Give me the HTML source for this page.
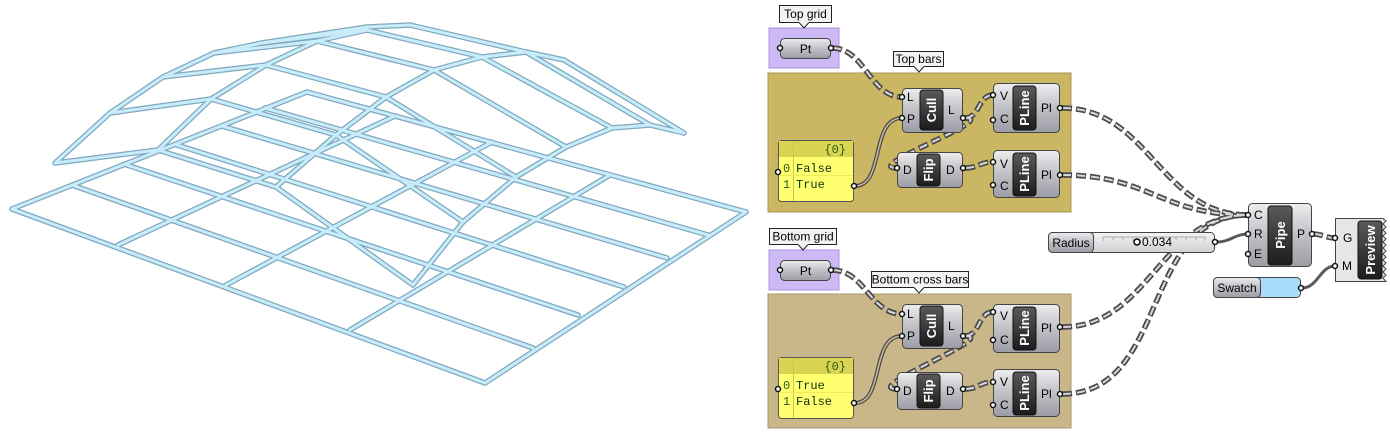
<!DOCTYPE html>
<html><head><meta charset="utf-8"><style>
html,body{margin:0;padding:0;background:#fff;width:1390px;height:435px;overflow:hidden}
svg{display:block}
text{font-family:"Liberation Sans",sans-serif}
text.m{font-family:"Liberation Mono",monospace}
</style></head><body>
<svg width="1390" height="435" viewBox="0 0 1390 435" xmlns="http://www.w3.org/2000/svg">
<defs>
<linearGradient id="cg" x1="0" y1="0" x2="0" y2="1"><stop offset="0" stop-color="#eeeef0"/><stop offset="0.45" stop-color="#c4c4ca"/><stop offset="1" stop-color="#9c9ca6"/></linearGradient>
<linearGradient id="ig" x1="0" y1="0" x2="0" y2="1"><stop offset="0" stop-color="#5a5a5a"/><stop offset="1" stop-color="#1c1c1c"/></linearGradient>
<linearGradient id="sg" x1="0" y1="0" x2="0" y2="1"><stop offset="0" stop-color="#f4f4f4"/><stop offset="1" stop-color="#d0d0d4"/></linearGradient>
</defs>

<g fill="none" stroke-linecap="round" stroke-linejoin="round">
<g stroke="#7fa8be" stroke-width="5.5">
<path d="M12,209 L307,92 M118,245 L395,116 M226,285 L492,142 M350,330 L610,175 M485,383 L746,212"/>
<path d="M12,209 L485,383 M72,185 L533,348 M127,165 L578,315 M177,145 L624,287 M222,126 L667,258 M265,108 L708,235 M307,92 L746,212"/>
<path d="M55,163 L110,113 L163,77 L214,53 L262,43 L367,27 L410,25"/>
<path d="M158,150 L211,99 L266,65 L317,41 L367,30"/>
<path d="M55,163 L158,150 M110,113 L211,99 M163,77 L266,65 M214,53 L317,41 M262,43 L367,30"/>
<path d="M276,187 L336,135 L386,97 L434,70 L482,57 L526,52 L564,60"/>
<path d="M158,150 L276,187 M211,99 L336,135 M266,65 L386,97 M317,41 L434,70 M367,30 L482,57 M410,25 L526,52"/>
<path d="M413,285 L463,222 L516,177 L566,147 L612,128 L650,125 L684,133"/>
<path d="M276,187 L413,285 M336,135 L463,222 M386,97 L516,177 M434,70 L566,147 M482,57 L612,128 M526,52 L650,125 M564,60 L684,133"/>
</g>
<g stroke="#c8ecfa" stroke-width="3">
<path d="M12,209 L307,92 M118,245 L395,116 M226,285 L492,142 M350,330 L610,175 M485,383 L746,212"/>
<path d="M12,209 L485,383 M72,185 L533,348 M127,165 L578,315 M177,145 L624,287 M222,126 L667,258 M265,108 L708,235 M307,92 L746,212"/>
<path d="M55,163 L110,113 L163,77 L214,53 L262,43 L367,27 L410,25"/>
<path d="M158,150 L211,99 L266,65 L317,41 L367,30"/>
<path d="M55,163 L158,150 M110,113 L211,99 M163,77 L266,65 M214,53 L317,41 M262,43 L367,30"/>
<path d="M276,187 L336,135 L386,97 L434,70 L482,57 L526,52 L564,60"/>
<path d="M158,150 L276,187 M211,99 L336,135 M266,65 L386,97 M317,41 L434,70 M367,30 L482,57 M410,25 L526,52"/>
<path d="M413,285 L463,222 L516,177 L566,147 L612,128 L650,125 L684,133"/>
<path d="M276,187 L413,285 M336,135 L463,222 M386,97 L516,177 M434,70 L566,147 M482,57 L612,128 M526,52 L650,125 M564,60 L684,133"/>
</g>
</g>

<rect x="769" y="28" width="70" height="40" fill="#cdb9f6" stroke="#a993dd"/>
<rect x="768" y="73" width="303" height="139" fill="#cbb664" stroke="#a89850"/>
<rect x="769" y="250" width="70" height="40" fill="#cdb9f6" stroke="#a993dd"/>
<rect x="768" y="294" width="303" height="134" fill="#c9b78a" stroke="#a8986e"/>

<g font-size="12" fill="#000">
<rect x="779.5" y="5.5" width="52" height="17" fill="#f2f2f2" stroke="#222"/>
<path d="M799,22.5 L804,28 L809,22.5" fill="#f2f2f2" stroke="#222"/><path d="M799.5,22.5 L808.5,22.5" stroke="#f2f2f2"/>
<text x="805.5" y="18" text-anchor="middle">Top grid</text>
<rect x="893.5" y="51.5" width="50" height="15" fill="#f2f2f2" stroke="#222"/>
<path d="M914,66.5 L919,72 L924,66.5" fill="#f2f2f2" stroke="#222"/><path d="M914.5,66.5 L923.5,66.5" stroke="#f2f2f2"/>
<text x="918.5" y="63" text-anchor="middle">Top bars</text>
<rect x="769.5" y="228.5" width="67" height="16" fill="#f2f2f2" stroke="#222"/>
<path d="M798,244.5 L803,250 L808,244.5" fill="#f2f2f2" stroke="#222"/><path d="M798.5,244.5 L807.5,244.5" stroke="#f2f2f2"/>
<text x="803" y="240.5" text-anchor="middle">Bottom grid</text>
<rect x="871.5" y="271.5" width="97" height="16" fill="#f2f2f2" stroke="#222"/>
<path d="M914,287.5 L919,293 L924,287.5" fill="#f2f2f2" stroke="#222"/><path d="M914.5,287.5 L923.5,287.5" stroke="#f2f2f2"/>
<text x="920" y="283.5" text-anchor="middle">Bottom cross bars</text>
</g>

<g fill="none">
<g stroke="#4a4a4a" stroke-width="5.5" stroke-dasharray="10 4">
<path d="M832,48 C865,48 870,97 902,97"/>
<path d="M832,270 C865,270 870,314 902,314"/>
<path d="M965,118 C980,118 978,95 993,95"/>
<path d="M965,118 C1000,118 860,168 897,168"/>
<path d="M965,168 C978,168 980,162 993,162"/>
<path d="M965,336 C980,336 978,312 993,312"/>
<path d="M965,336 C1000,336 860,389 897,389"/>
<path d="M965,389 C978,389 980,382 993,382"/>
<path d="M1062,108 C1150,108 1160,215 1248,215"/>
<path d="M1062,175 C1150,175 1160,215 1248,215"/>
<path d="M1062,327 C1150,327 1160,215 1248,215"/>
<path d="M1062,394 C1170,394 1140,215 1248,215"/>
<path d="M1313,234 C1322,234 1326,238 1335,238"/>
</g>
<g stroke="#d8d8d8" stroke-width="2" stroke-dasharray="8 6" stroke-dashoffset="-1">
<path d="M832,48 C865,48 870,97 902,97"/>
<path d="M832,270 C865,270 870,314 902,314"/>
<path d="M965,118 C980,118 978,95 993,95"/>
<path d="M965,118 C1000,118 860,168 897,168"/>
<path d="M965,168 C978,168 980,162 993,162"/>
<path d="M965,336 C980,336 978,312 993,312"/>
<path d="M965,336 C1000,336 860,389 897,389"/>
<path d="M965,389 C978,389 980,382 993,382"/>
<path d="M1062,108 C1150,108 1160,215 1248,215"/>
<path d="M1062,175 C1150,175 1160,215 1248,215"/>
<path d="M1062,327 C1150,327 1160,215 1248,215"/>
<path d="M1062,394 C1170,394 1140,215 1248,215"/>
<path d="M1313,234 C1322,234 1326,238 1335,238"/>
</g>
<g stroke="#4a4a4a" stroke-width="4">
<path d="M855,186 C885,186 870,118 902,118"/>
<path d="M855,403 C885,403 870,336 902,336"/>
</g>
<g stroke="#c9bd9a" stroke-width="1.5">
<path d="M855,186 C885,186 870,118 902,118"/>
<path d="M855,403 C885,403 870,336 902,336"/>
</g>
<g stroke="#5a5a5a" stroke-width="3">
<path d="M1217,242 C1230,242 1235,234 1248,234"/>
<path d="M1302,288 C1318,288 1320,266 1335,266"/>
</g>
</g>

<rect x="780.5" y="38.5" width="50" height="20" rx="4" fill="url(#cg)" stroke="#444"/>
<text x="805.5" y="53" text-anchor="middle" font-size="12">Pt</text>
<rect x="780.5" y="260.5" width="50" height="20" rx="4" fill="url(#cg)" stroke="#444"/>
<text x="805.5" y="275" text-anchor="middle" font-size="12">Pt</text>

<g font-size="12" fill="#000">
<rect x="902.5" y="88.5" width="60" height="44" rx="4" fill="url(#cg)" stroke="#444"/>
<rect x="920" y="90" width="23" height="40" rx="3" fill="url(#ig)" stroke="#111"/>
<text transform="translate(936,110) rotate(-90)" text-anchor="middle" fill="#fff" font-weight="bold" font-size="13">Cull</text>
<text x="907" y="101">L</text><text x="907" y="123">P</text><text x="948" y="114">L</text>
<rect x="993.5" y="83.5" width="66" height="49" rx="4" fill="url(#cg)" stroke="#444"/>
<rect x="1013" y="86" width="23" height="44" rx="3" fill="url(#ig)" stroke="#111"/>
<text transform="translate(1029,108) rotate(-90)" text-anchor="middle" fill="#fff" font-weight="bold" font-size="13">PLine</text>
<text x="1000" y="100">V</text><text x="1000" y="123">C</text><text x="1041" y="112">Pl</text>
<rect x="897.5" y="152.5" width="65" height="35" rx="4" fill="url(#cg)" stroke="#444"/>
<rect x="917" y="154" width="23" height="32" rx="3" fill="url(#ig)" stroke="#111"/>
<text transform="translate(933,170) rotate(-90)" text-anchor="middle" fill="#fff" font-weight="bold" font-size="13">Flip</text>
<text x="903" y="174">D</text><text x="946" y="174">D</text>
<rect x="993.5" y="150.5" width="66" height="47" rx="4" fill="url(#cg)" stroke="#444"/>
<rect x="1013" y="153" width="23" height="43" rx="3" fill="url(#ig)" stroke="#111"/>
<text transform="translate(1029,174) rotate(-90)" text-anchor="middle" fill="#fff" font-weight="bold" font-size="13">PLine</text>
<text x="1000" y="168">V</text><text x="1000" y="190">C</text><text x="1041" y="179">Pl</text>

<rect x="902.5" y="304.5" width="60" height="44" rx="4" fill="url(#cg)" stroke="#444"/>
<rect x="920" y="306" width="23" height="40" rx="3" fill="url(#ig)" stroke="#111"/>
<text transform="translate(936,326) rotate(-90)" text-anchor="middle" fill="#fff" font-weight="bold" font-size="13">Cull</text>
<text x="907" y="318">L</text><text x="907" y="340">P</text><text x="948" y="330">L</text>
<rect x="993.5" y="304.5" width="66" height="48" rx="4" fill="url(#cg)" stroke="#444"/>
<rect x="1013" y="307" width="23" height="43" rx="3" fill="url(#ig)" stroke="#111"/>
<text transform="translate(1029,328) rotate(-90)" text-anchor="middle" fill="#fff" font-weight="bold" font-size="13">PLine</text>
<text x="1000" y="320">V</text><text x="1000" y="344">C</text><text x="1041" y="332">Pl</text>
<rect x="897.5" y="372.5" width="65" height="37" rx="4" fill="url(#cg)" stroke="#444"/>
<rect x="917" y="374" width="23" height="34" rx="3" fill="url(#ig)" stroke="#111"/>
<text transform="translate(933,391) rotate(-90)" text-anchor="middle" fill="#fff" font-weight="bold" font-size="13">Flip</text>
<text x="903" y="395">D</text><text x="946" y="395">D</text>
<rect x="993.5" y="369.5" width="66" height="47" rx="4" fill="url(#cg)" stroke="#444"/>
<rect x="1013" y="372" width="23" height="43" rx="3" fill="url(#ig)" stroke="#111"/>
<text transform="translate(1029,393) rotate(-90)" text-anchor="middle" fill="#fff" font-weight="bold" font-size="13">PLine</text>
<text x="1000" y="386">V</text><text x="1000" y="409">C</text><text x="1041" y="398">Pl</text>

<rect x="1248.5" y="203.5" width="63" height="63" rx="4" fill="url(#cg)" stroke="#444"/>
<rect x="1268" y="206" width="24" height="59" rx="3" fill="url(#ig)" stroke="#111"/>
<text transform="translate(1285,235) rotate(-90)" text-anchor="middle" fill="#fff" font-weight="bold" font-size="13">Pipe</text>
<text x="1254" y="219">C</text><text x="1254" y="238">R</text><text x="1254" y="258">E</text><text x="1297" y="238">P</text>

<path d="M1335.5,218.5 L1383,218.5 L1386,221 L1383,224 L1386,227 L1383,230 L1386,233 L1383,236 L1386,239 L1383,242 L1386,245 L1383,248 L1386,251 L1383,254 L1386,257 L1383,260 L1386,263 L1383,266 L1386,269 L1383,272 L1386,275 L1383,278 L1386,281.5 L1335.5,281.5 Z" fill="#e6e6e8" stroke="#444"/>
<rect x="1358" y="221" width="24" height="58" rx="3" fill="url(#ig)" stroke="#111"/>
<text transform="translate(1375,250) rotate(-90)" text-anchor="middle" fill="#fff" font-weight="bold" font-size="13">Preview</text>
<text x="1343" y="242">G</text><text x="1342" y="270">M</text>
</g>

<rect x="1048.5" y="232.5" width="166" height="20" rx="4" fill="url(#sg)" stroke="#444"/>
<rect x="1048.5" y="232.5" width="45" height="20" rx="4" fill="url(#cg)" stroke="#444"/>
<text x="1071" y="247" text-anchor="middle" font-size="12">Radius</text>
<path d="M1103,237 L1205,237 M1103,237 v4 M1113,237 v3 M1123,237 v3 M1133,237 v4 M1176,237 v3 M1186,237 v3 M1196,237 v3 M1205,237 v4" stroke="#aaa" fill="none"/>
<circle cx="1137" cy="242" r="3" fill="#fff" stroke="#000" stroke-width="1.5"/>
<text x="1142" y="246" font-size="12" fill="#000">0.034</text>

<rect x="1213.5" y="277.5" width="87" height="20" rx="4" fill="#a9dcfb" stroke="#444"/>
<rect x="1213.5" y="277.5" width="47" height="20" rx="4" fill="url(#cg)" stroke="#444"/>
<text x="1237" y="292" text-anchor="middle" font-size="12">Swatch</text>

<g font-size="12">
<rect x="778.5" y="140.5" width="75" height="61" rx="3" fill="#ffff70" stroke="#555"/>
<rect x="779" y="141" width="74" height="16" fill="#d9d552"/>
<line x1="793.5" y1="141" x2="793.5" y2="201" stroke="#c9c64c"/>
<line x1="779" y1="175.5" x2="853" y2="175.5" stroke="#ecea60"/>
<text class="m" x="846" y="153" text-anchor="end" fill="#2d5a14">{0}</text>
<text class="m" x="783" y="172" fill="#2d5a14">0</text><text class="m" x="796" y="172" fill="#0c3214">False</text>
<text class="m" x="783" y="188" fill="#2d5a14">1</text><text class="m" x="796" y="188" fill="#0c3214">True</text>

<rect x="778.5" y="357.5" width="75" height="61" rx="3" fill="#ffff70" stroke="#555"/>
<rect x="779" y="358" width="74" height="16" fill="#d9d552"/>
<line x1="793.5" y1="358" x2="793.5" y2="418" stroke="#c9c64c"/>
<line x1="779" y1="392.5" x2="853" y2="392.5" stroke="#ecea60"/>
<text class="m" x="846" y="370" text-anchor="end" fill="#2d5a14">{0}</text>
<text class="m" x="783" y="389" fill="#2d5a14">0</text><text class="m" x="796" y="389" fill="#0c3214">True</text>
<text class="m" x="783" y="405" fill="#2d5a14">1</text><text class="m" x="796" y="405" fill="#0c3214">False</text>
</g>

<g fill="#fff" stroke="#111" stroke-width="1.5">
<circle cx="780" cy="48" r="2.5"/><circle cx="831" cy="48" r="2.5"/>
<circle cx="780" cy="270" r="2.5"/><circle cx="831" cy="270" r="2.5"/>
<circle cx="778" cy="172" r="2.5"/><circle cx="854" cy="186" r="2.5"/>
<circle cx="778" cy="389" r="2.5"/><circle cx="854" cy="403" r="2.5"/>
<circle cx="902" cy="97" r="2.5"/><circle cx="902" cy="118" r="2.5"/><circle cx="963" cy="118" r="2.5"/>
<circle cx="993" cy="95" r="2.5"/><circle cx="993" cy="120" r="2.5"/><circle cx="1060" cy="108" r="2.5"/>
<circle cx="897" cy="168" r="2.5"/><circle cx="963" cy="168" r="2.5"/>
<circle cx="993" cy="162" r="2.5"/><circle cx="993" cy="185" r="2.5"/><circle cx="1060" cy="175" r="2.5"/>
<circle cx="902" cy="314" r="2.5"/><circle cx="902" cy="336" r="2.5"/><circle cx="963" cy="336" r="2.5"/>
<circle cx="993" cy="312" r="2.5"/><circle cx="993" cy="340" r="2.5"/><circle cx="1060" cy="327" r="2.5"/>
<circle cx="897" cy="389" r="2.5"/><circle cx="963" cy="389" r="2.5"/>
<circle cx="993" cy="382" r="2.5"/><circle cx="993" cy="405" r="2.5"/><circle cx="1060" cy="394" r="2.5"/>
<circle cx="1248" cy="215" r="2.5"/><circle cx="1248" cy="234" r="2.5"/><circle cx="1248" cy="254" r="2.5"/><circle cx="1312" cy="234" r="2.5"/>
<circle cx="1335" cy="238" r="2.5"/><circle cx="1335" cy="266" r="2.5"/>
<circle cx="1215" cy="242" r="2.5"/><circle cx="1301" cy="288" r="2.5"/>
</g>
</svg>
</body></html>
